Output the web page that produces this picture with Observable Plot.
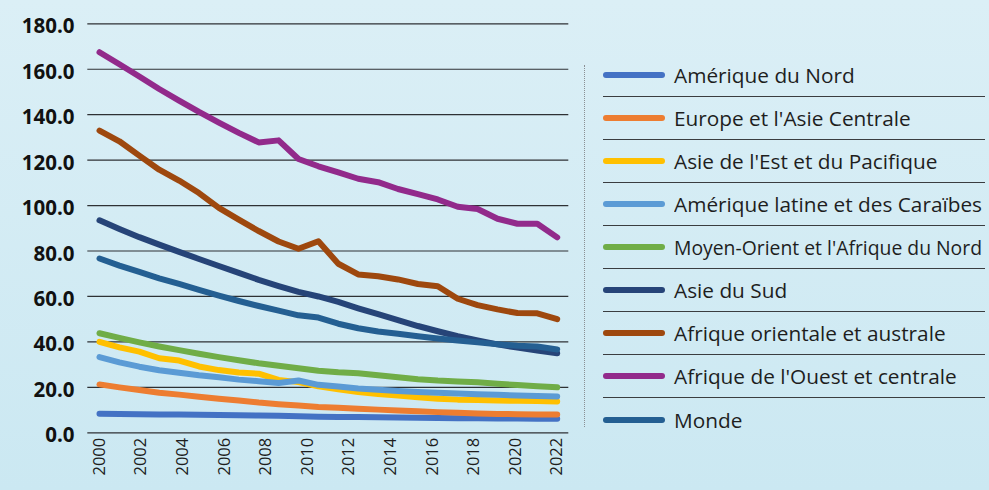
<!DOCTYPE html>
<html>
<head>
<meta charset="utf-8">
<script src="https://cdn.jsdelivr.net/npm/d3@7"></script>
<script src="https://cdn.jsdelivr.net/npm/@observablehq/plot@0.6"></script>
<style>
  html, body { margin: 0; padding: 0; }
  body {
    width: 989px; height: 490px; position: relative; overflow: hidden;
    background: linear-gradient(180deg, #dbeff6 0%, #cbe8f2 100%);
    font-family: "Open Sans", "Noto Sans", sans-serif;
  }
  #chart { position: absolute; left: 0; top: 0; }
  #divider { position: absolute; left: 584px; top: 65px; height: 362px; border-left: 1.5px dotted #8a8f93; }
  #legend { position: absolute; left: 603px; top: 54px; width: 382px; }
  .row { height: 43px; display: flex; align-items: center; box-sizing: border-box; }
  .row.sep { border-bottom: 1.3px solid #3a3d40; }
  .sw { width: 62px; height: 6px; border-radius: 3px; margin-right: 9px; flex: none; }
  .lab { font-size: 20.8px; color: #1e1e1e; white-space: nowrap; display: inline-block; transform-origin: left center; }
</style>
</head>
<body>
<div id="chart"></div>
<div id="divider"></div>
<div id="legend"></div>
<script>
const years = [2000,2001,2002,2003,2004,2005,2006,2007,2008,2009,2010,2011,2012,2013,2014,2015,2016,2017,2018,2019,2020,2021,2022,2023];

const ameriqueNord   = [8.4,8.3,8.2,8.1,8.0,7.9,7.8,7.7,7.6,7.5,7.3,7.1,7.0,6.9,6.8,6.7,6.6,6.5,6.4,6.4,6.3,6.3,6.2,6.2];
const europeAsieC    = [21.3,20.0,18.8,17.6,16.8,15.9,15.0,14.2,13.3,12.6,12.0,11.4,11.0,10.6,10.2,9.8,9.5,9.1,8.8,8.5,8.3,8.2,8.1,8.1];
const asieEstPac     = [40.0,37.6,35.7,32.8,31.8,29.2,27.6,26.5,26.0,23.3,22.3,20.5,19.2,17.9,17.1,16.4,15.6,15.0,14.6,14.4,14.2,14.1,14.0,13.8];
const ameriqueLatine = [33.3,31.0,29.1,27.5,26.4,25.3,24.4,23.4,22.7,21.9,23.0,21.1,20.4,19.5,18.9,18.4,18.0,17.6,17.3,17.0,16.7,16.4,16.2,16.0];
const moyenOrient    = [43.8,41.8,39.8,38.0,36.4,34.8,33.3,31.9,30.6,29.5,28.4,27.3,26.6,26.2,25.3,24.4,23.6,23.0,22.6,22.2,21.6,21.0,20.5,20.0];
const asieSud        = [93.5,89.7,86.1,82.8,79.6,76.5,73.4,70.4,67.3,64.6,62.0,60.0,57.6,54.8,52.2,49.6,47.0,44.7,42.5,40.6,38.9,37.5,36.2,35.0];
const afriqueOrient  = [133.0,128.3,122.0,115.8,111.0,105.5,99.0,93.8,88.8,84.2,81.0,84.3,74.4,69.7,68.9,67.5,65.5,64.5,59.0,56.2,54.3,52.7,52.6,50.0];
const afriqueOuest   = [167.5,162.2,156.8,151.3,146.2,141.2,136.5,132.0,127.8,128.7,120.5,117.3,114.6,111.8,110.3,107.3,105.0,102.7,99.5,98.5,94.2,92.0,92.0,86.0];
const monde          = [76.7,73.6,70.8,68.0,65.5,62.9,60.4,58.0,55.8,53.8,51.7,50.7,48.0,46.0,44.6,43.6,42.5,41.5,40.6,39.8,39.0,38.3,38.0,36.7];

const regionNames = [
  "Amérique du Nord",
  "Europe et l'Asie Centrale",
  "Asie de l'Est et du Pacifique",
  "Amérique latine et des Caraïbes",
  "Moyen-Orient et l'Afrique du Nord",
  "Asie du Sud",
  "Afrique orientale et australe",
  "Afrique de l'Ouest et centrale",
  "Monde"
];
const regionColors = ["#4472c4","#ed7d31","#ffc000","#5b9bd5","#70ad47","#264478","#9e480e","#922a8b","#245f92"];
const regionValues = [ameriqueNord, europeAsieC, asieEstPac, ameriqueLatine, moyenOrient, asieSud, afriqueOrient, afriqueOuest, monde];

const yTicks = [0,20,40,60,80,100,120,140,160,180];
const xTickLabels = ["2000","2002","2004","2006","2008","2010","2012","2014","2016","2018","2020","2022"];

// Labels are spread evenly across the span of the data, as in the reference
const span = years[years.length - 1] - years[0];
const xTickPos = xTickLabels.map((_, i) => years[0] + i * span / (xTickLabels.length - 1));
const labelAt = new Map(xTickPos.map((p, i) => [p, xTickLabels[i]]));

const table = [];
regionNames.forEach((name, k) => {
  years.forEach((yr, i) => table.push({region: name, year: yr, value: regionValues[k][i]}));
});

const chart = Plot.plot({
  width: 580,
  height: 490,
  marginLeft: 99,
  marginRight: 23.3,
  marginTop: 23.3,
  marginBottom: 57.7,
  style: {background: "transparent", fontFamily: "'Open Sans', 'Noto Sans', sans-serif", overflow: "visible"},
  x: {domain: [years[0], years[years.length - 1]], label: null},
  y: {domain: [0, 180], label: null},
  color: {domain: regionNames, range: regionColors},
  marks: [
    Plot.ruleY(yTicks, {stroke: "#2e3134", strokeWidth: 1.2, insetLeft: -11.7, insetRight: -11.6}),
    Plot.line(table, {x: "year", y: "value", z: "region", stroke: "region", strokeWidth: 6, strokeLinecap: "round", strokeLinejoin: "round"}),
    Plot.axisY({ticks: yTicks, label: null, tickFormat: d => d.toFixed(1), tickSize: 0, tickPadding: 25, fontSize: 20.5, fontWeight: "bold", fill: "#111", dy: 3}),
    Plot.axisX({ticks: xTickPos, label: null, tickFormat: d => labelAt.get(d), tickRotate: -90, tickSize: 0, tickPadding: 5, fontSize: 16.5, fill: "#1e1e1e"})
  ]
});
document.getElementById("chart").appendChild(chart);

const legend = document.getElementById("legend");
const maxLabelWidth = 308;
regionNames.forEach((name, k) => {
  const row = document.createElement("div");
  row.className = "row" + (k < regionNames.length - 1 ? " sep" : "");
  const sw = document.createElement("div");
  sw.className = "sw";
  sw.style.background = regionColors[k];
  const lab = document.createElement("span");
  lab.className = "lab";
  lab.textContent = name;
  row.appendChild(sw);
  row.appendChild(lab);
  legend.appendChild(row);
  const w = lab.getBoundingClientRect().width;
  if (w > maxLabelWidth) lab.style.transform = `scaleX(${maxLabelWidth / w})`;
});
</script>
</body>
</html>
